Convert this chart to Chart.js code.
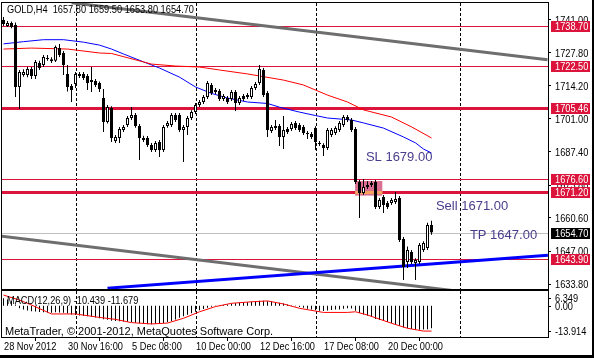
<!DOCTYPE html>
<html>
<head>
<meta charset="utf-8">
<script src="https://cdn.jsdelivr.net/npm/chart.js@4.4.0/dist/chart.umd.min.js"></script>
<style>
html, body { margin: 0; padding: 0; background: #000; }
#wrap { position: relative; width: 594px; height: 358px; background: #000; overflow: hidden; }
canvas { position: absolute; left: 0; background: #fff; }
#main { top: 0; }
#macd { top: 290px; }
</style>
</head>
<body>
<div id="wrap">
  <canvas id="main" width="592" height="290"></canvas>
  <canvas id="macd" width="592" height="65"></canvas>
</div>
<script>
const symbolTitle = 'GOLD,H4';

// H4 candles, bar 0 = 28 Nov 2012 00:00
const opens = [
  1741.0, 1738.6, 1739.8, 1739.0, 1713.8, 1718.7, 1718.7, 1721.1, 1718.3, 1723.5,
  1722.7, 1725.2, 1725.1, 1724.4, 1729.6, 1727.6, 1719.1, 1714.2, 1715.0, 1718.3,
  1719.1, 1718.3, 1716.6, 1716.2, 1715.4, 1709.3, 1699.6, 1705.3, 1691.9, 1693.1,
  1696.3, 1698.4, 1701.2, 1702.4, 1698.0, 1693.1, 1693.1, 1690.2, 1688.2, 1691.5,
  1688.2, 1698.0, 1698.4, 1702.4, 1702.4, 1696.3, 1697.6, 1701.2, 1703.6, 1706.5,
  1707.7, 1709.7, 1714.6, 1711.8, 1712.2, 1708.9, 1709.3, 1708.9, 1711.8, 1707.3,
  1710.1, 1709.7, 1709.7, 1713.4, 1715.4, 1720.7, 1711.4, 1695.9, 1697.1, 1698.0,
  1693.5, 1696.7, 1696.7, 1699.2, 1698.4, 1697.6, 1695.1, 1694.7, 1697.1, 1691.1,
  1690.2, 1689.0, 1694.3, 1695.1, 1696.3, 1698.4, 1701.6, 1700.4, 1696.7, 1675.2,
  1670.8, 1673.2, 1674.0, 1675.2, 1665.1, 1669.1, 1666.7, 1666.7, 1667.1, 1668.7,
  1652.1, 1642.7, 1646.8, 1642.3, 1642.7, 1647.6, 1648.4, 1657.8
];
const highs = [
  1742.2, 1740.6, 1740.4, 1740.0, 1720.7, 1721.0, 1722.0, 1721.9, 1724.8, 1724.4,
  1726.8, 1726.8, 1725.9, 1730.6, 1731.3, 1728.4, 1722.7, 1715.0, 1719.9, 1719.9,
  1719.9, 1719.1, 1721.9, 1717.0, 1716.0, 1713.0, 1706.5, 1706.0, 1694.3, 1697.6,
  1698.4, 1702.0, 1705.7, 1703.2, 1698.8, 1694.0, 1693.9, 1691.1, 1691.9, 1692.3,
  1698.4, 1700.0, 1703.2, 1703.2, 1703.2, 1698.4, 1702.0, 1704.4, 1707.3, 1708.5,
  1710.5, 1716.2, 1715.4, 1713.4, 1713.0, 1710.9, 1710.1, 1712.6, 1712.6, 1710.1,
  1710.9, 1711.4, 1714.2, 1715.8, 1722.7, 1721.5, 1712.2, 1698.4, 1700.4, 1698.8,
  1702.0, 1697.6, 1699.6, 1700.0, 1699.2, 1698.4, 1695.9, 1695.5, 1697.9, 1691.9,
  1691.0, 1697.1, 1697.1, 1697.9, 1700.0, 1702.4, 1702.4, 1701.2, 1697.5, 1676.0,
  1676.4, 1675.5, 1675.6, 1676.0, 1668.7, 1669.9, 1667.5, 1668.7, 1671.2, 1669.5,
  1652.9, 1649.0, 1647.6, 1644.3, 1650.4, 1651.2, 1658.7, 1659.5
];
const lows = [
  1738.6, 1738.2, 1737.6, 1709.7, 1704.9, 1718.0, 1717.8, 1717.0, 1717.0, 1720.7,
  1721.9, 1724.4, 1723.5, 1723.9, 1726.0, 1718.7, 1712.0, 1707.7, 1713.4, 1717.4,
  1716.6, 1712.6, 1711.8, 1713.8, 1711.8, 1695.5, 1699.0, 1691.5, 1691.1, 1691.1,
  1695.5, 1697.6, 1700.4, 1697.2, 1684.2, 1691.5, 1689.4, 1687.4, 1687.4, 1685.4,
  1687.4, 1697.2, 1697.6, 1699.6, 1695.5, 1683.3, 1694.3, 1700.4, 1702.8, 1705.7,
  1706.9, 1708.9, 1710.5, 1711.0, 1708.1, 1708.1, 1706.9, 1708.1, 1704.0, 1706.5,
  1708.1, 1708.9, 1708.9, 1712.6, 1714.6, 1709.7, 1693.5, 1695.1, 1696.3, 1689.8,
  1688.6, 1694.7, 1695.9, 1696.3, 1695.5, 1694.3, 1692.7, 1692.7, 1688.2, 1689.8,
  1685.8, 1688.2, 1693.5, 1694.3, 1695.5, 1697.6, 1699.6, 1695.5, 1674.4, 1660.6,
  1670.0, 1672.4, 1673.2, 1664.3, 1664.3, 1662.6, 1664.3, 1665.9, 1666.3, 1650.9,
  1635.4, 1640.3, 1641.9, 1635.4, 1641.9, 1646.8, 1647.6, 1653.8
];
const closes = [
  1739.4, 1739.8, 1738.2, 1713.8, 1719.9, 1719.9, 1721.1, 1718.3, 1723.9, 1721.5,
  1726.0, 1725.6, 1724.2, 1730.0, 1726.8, 1722.7, 1713.8, 1712.6, 1719.1, 1719.1,
  1717.4, 1715.4, 1715.8, 1714.6, 1713.0, 1699.6, 1705.7, 1693.1, 1693.5, 1696.7,
  1697.6, 1701.2, 1702.4, 1698.0, 1693.1, 1692.3, 1690.2, 1688.2, 1691.1, 1688.2,
  1697.6, 1699.2, 1702.4, 1700.4, 1696.3, 1697.6, 1701.2, 1703.6, 1706.5, 1707.7,
  1709.7, 1715.4, 1711.4, 1712.6, 1708.9, 1710.1, 1707.7, 1711.8, 1707.3, 1709.3,
  1708.9, 1710.5, 1713.4, 1715.0, 1721.1, 1710.5, 1696.3, 1697.6, 1698.0, 1693.5,
  1696.3, 1695.5, 1698.8, 1697.1, 1696.3, 1695.1, 1694.7, 1693.5, 1691.5, 1690.6,
  1689.0, 1696.3, 1696.3, 1697.1, 1699.2, 1701.6, 1700.4, 1696.3, 1675.2, 1670.8,
  1673.2, 1674.0, 1674.8, 1665.1, 1667.9, 1665.9, 1665.1, 1667.9, 1668.3, 1651.7,
  1640.7, 1647.6, 1642.7, 1643.5, 1649.6, 1650.4, 1657.8, 1654.7
];

// moving averages, [bar, price]
const maBlue = [
  [0, 1731.3], [5, 1732.2], [10, 1733.0], [15, 1733.0], [20, 1732.0], [24, 1730.8],
  [27, 1729.2], [30, 1727.2], [35, 1724.0], [39, 1721.5], [44, 1717.8], [48, 1713.8],
  [52, 1711.2], [56, 1709.3], [61, 1707.7], [66, 1707.1], [69, 1705.6], [74, 1703.6],
  [78, 1702.2], [81, 1701.2], [87, 1700.4], [90, 1699.2], [95, 1697.1], [100, 1693.5],
  [103, 1691.1], [105, 1688.6], [107, 1687.0]
];
const maRed = [
  [0, 1729.2], [7, 1729.6], [16, 1729.2], [24, 1727.6], [27, 1727.4], [37, 1723.1],
  [43, 1722.3], [49, 1721.9], [54, 1720.7], [61, 1719.1], [70, 1716.6], [75, 1714.6],
  [81, 1710.5], [86, 1707.7], [90, 1704.5], [97, 1701.6], [102, 1697.6], [107, 1693.1]
];

// trend lines, [bar, price]
const trendGrayTop = [[17, 1748.0], [136, 1724.9]];
const trendGrayBottom = [[-2, 1653.5], [136, 1626.5]];
const trendBlue = [[26, 1632.1], [136.1, 1645.5]];

const priceTicks = [1741.00, 1727.80, 1714.20, 1701.00, 1687.40, 1673.80, 1660.60, 1647.00, 1633.80];
const levelPrices = [1738.70, 1722.50, 1705.46, 1676.60, 1671.20, 1643.90];
const levelLineWidths = [1, 1, 3, 1, 3, 1];
const currentPrice = 1654.70;

const zoneBars = [87.9, 94.7];
const zonePrices = [1675.6, 1669.7];

const noteTexts = ['SL 1679.00', 'Sell 1671.00', 'TP 1647.00'];
const noteBars = [90.6, 108.1, 116.6];
const notePrices = [1685.4, 1665.5, 1653.5];

const separatorBars = [18, 48, 78, 114];
const timeTickBars = [0, 16, 32, 48, 64, 80, 96];
const timeLabels = ['28 Nov 2012', '30 Nov 16:00', '5 Dec 08:00', '10 Dec 00:00', '12 Dec 16:00', '17 Dec 08:00', '20 Dec 00:00'];

// MACD(12,26,9)
const macdHist = [
  3.4, 2.8, 2.2, 0.6, -1.2, -1.8, -2.2, -2.6, -2.7, -2.9,
  -3.0, -3.1, -3.2, -3.0, -3.1, -3.3, -3.6, -4.1, -4.3, -4.5,
  -4.7, -4.9, -5.1, -5.4, -5.8, -6.3, -6.5, -6.9, -7.1, -7.2,
  -7.3, -7.4, -7.5, -7.8, -8.1, -8.4, -8.5, -8.5, -8.4, -8.3,
  -8.0, -7.6, -7.0, -6.4, -5.6, -4.9, -4.2, -3.5, -2.8, -2.1,
  -1.5, -0.9, -0.5, -0.2, 0.1, 0.3, 0.6, 0.9, 1.1, 1.3,
  1.5, 1.6, 1.8, 2.0, 2.3, 2.3, 2.1, 1.9, 1.6, 1.3,
  1.0, 0.6, 0.2, -0.2, -0.6, -1.0, -1.4, -1.8, -2.1, -2.3,
  -2.4, -2.2, -2.0, -1.8, -1.7, -1.4, -1.2, -1.3, -2.3, -3.4,
  -4.0, -4.6, -5.2, -6.1, -6.6, -7.0, -7.5, -8.0, -8.4, -9.2,
  -10.0, -10.4, -10.7, -11.0, -11.1, -11.0, -10.8, -10.439
];
const macdSignal = [
  [0, 4.9], [4, 2.6], [7, 0.3], [12, -3.8], [18, -3.8], [24, -5.4], [28, -6.3],
  [32, -7.8], [37, -8.4], [41, -8.0], [45, -5.8], [49, -2.8], [53, -0.4], [57, 1.1],
  [62, 1.8], [66, 2.2], [70, 0.8], [74, -1.2], [80, -3.1], [86, -3.1], [88, -2.8],
  [91, -4.3], [97, -8.1], [101, -10.4], [105, -11.7], [107, -11.679]
];
const macdAxisValues = [6.349, 0.00, -13.914];

const fontStr = "11px 'Liberation Sans', Arial";
const SQUEEZE = 0.84;
const CRIMSON = '#dc143c';
const xMin = -0.375, xMax = 136.125;

const toXY = arr => arr.map(([x, y]) => ({ x, y }));
const barIdx = opens.map((o, i) => i);

// MetaTrader's system font is narrower than Arial: squeeze horizontally
function narrowText(ctx, text, x, y) {
  ctx.save();
  ctx.translate(x, y);
  ctx.scale(SQUEEZE, 1);
  ctx.fillText(text, 0, 0);
  ctx.restore();
}

function drawSeparators(chart) {
  const { ctx, chartArea: a, scales: { x } } = chart;
  ctx.save();
  ctx.strokeStyle = '#000';
  ctx.lineWidth = 1;
  ctx.setLineDash([3, 2]);
  separatorBars.forEach(b => {
    const px = Math.round(x.getPixelForValue(b)) + 0.5;
    ctx.beginPath();
    ctx.moveTo(px, a.top);
    ctx.lineTo(px, a.bottom);
    ctx.stroke();
  });
  ctx.restore();
}

function drawFrame(chart) {
  const { ctx, chartArea: a } = chart;
  ctx.save();
  ctx.strokeStyle = '#000';
  ctx.lineWidth = 1;
  ctx.strokeRect(a.left - 0.5, a.top - 0.5, a.right - a.left + 1, a.bottom - a.top + 1);
  ctx.restore();
}

const mainOverlay = {
  id: 'mainOverlay',
  beforeDatasetsDraw(chart) {
    const { ctx, chartArea: a, scales: { x, y } } = chart;
    ctx.save();
    ctx.beginPath();
    ctx.rect(a.left, a.top, a.right - a.left, a.bottom - a.top);
    ctx.clip();
    drawSeparators(chart);
    // current price line
    const cy = Math.round(y.getPixelForValue(currentPrice)) + 0.5;
    ctx.strokeStyle = '#c0c0c0';
    ctx.lineWidth = 1;
    ctx.beginPath(); ctx.moveTo(a.left, cy); ctx.lineTo(a.right, cy); ctx.stroke();
    // horizontal levels
    levelPrices.forEach((p, i) => {
      const w = levelLineWidths[i];
      const py = Math.round(y.getPixelForValue(p)) + (w % 2 ? 0.5 : 0);
      ctx.strokeStyle = CRIMSON;
      ctx.lineWidth = w;
      ctx.beginPath(); ctx.moveTo(a.left, py); ctx.lineTo(a.right, py); ctx.stroke();
    });
    // rectangle zone
    const rx0 = x.getPixelForValue(zoneBars[0]), rx1 = x.getPixelForValue(zoneBars[1]);
    const ry0 = y.getPixelForValue(zonePrices[0]), ry1 = y.getPixelForValue(zonePrices[1]);
    ctx.fillStyle = '#db7093';
    ctx.fillRect(rx0, ry0, rx1 - rx0, ry1 - ry0);
    levelPrices.forEach((p, i) => {
      if (p < zonePrices[0] && p > zonePrices[1]) {
        const w = levelLineWidths[i];
        const py = Math.round(y.getPixelForValue(p)) + (w % 2 ? 0.5 : 0);
        ctx.strokeStyle = '#f4a460';
        ctx.lineWidth = w;
        ctx.beginPath(); ctx.moveTo(rx0, py); ctx.lineTo(rx1, py); ctx.stroke();
      }
    });
    ctx.restore();
  },
  afterDatasetsDraw(chart) {
    const { ctx, scales: { x, y } } = chart;
    ctx.save();
    ctx.font = "13px 'Liberation Sans', Arial";
    ctx.fillStyle = '#483d8b';
    ctx.textAlign = 'left';
    ctx.textBaseline = 'middle';
    noteTexts.forEach((t, i) => {
      ctx.fillText(t, x.getPixelForValue(noteBars[i]), y.getPixelForValue(notePrices[i]));
    });
    const n = opens.length - 1;
    const header = symbolTitle + '  ' + [opens[n], highs[n], lows[n], closes[n]].map(v => v.toFixed(2)).join(' ');
    ctx.font = fontStr;
    ctx.fillStyle = '#000';
    narrowText(ctx, header, 7, 10);
    ctx.restore();
  },
  afterDraw(chart) {
    const { ctx, chartArea: a, scales: { y } } = chart;
    drawFrame(chart);
    ctx.save();
    ctx.font = fontStr;
    ctx.textAlign = 'left';
    ctx.textBaseline = 'middle';
    ctx.fillStyle = '#000';
    priceTicks.forEach(v => narrowText(ctx, v.toFixed(2), a.right + 7, Math.round(y.getPixelForValue(v)) + 0.5));
    const box = (p, bg) => {
      const py = Math.round(y.getPixelForValue(p));
      ctx.fillStyle = bg;
      ctx.fillRect(551, py - 5, 39, 11);
      ctx.fillStyle = '#fff';
      narrowText(ctx, p.toFixed(2), 555, py + 0.5);
    };
    levelPrices.forEach(p => box(p, CRIMSON));
    box(currentPrice, '#000');
    ctx.restore();
  }
};

new Chart(document.getElementById('main'), {
  type: 'bar',
  data: {
    datasets: [
      { type: 'line', data: toXY(trendGrayTop), borderColor: '#6e6e6e', borderWidth: 3, pointRadius: 0, tension: 0, order: 6 },
      { type: 'line', data: toXY(trendGrayBottom), borderColor: '#6e6e6e', borderWidth: 3, pointRadius: 0, tension: 0, order: 6 },
      { type: 'line', data: toXY(trendBlue), borderColor: '#0000ff', borderWidth: 3, pointRadius: 0, tension: 0, order: 5 },
      { type: 'line', data: toXY(maRed), borderColor: '#ff0000', borderWidth: 1, pointRadius: 0, tension: 0, order: 4 },
      { type: 'line', data: toXY(maBlue), borderColor: '#0000ff', borderWidth: 1, pointRadius: 0, tension: 0, order: 4 },
      {
        type: 'bar', data: barIdx.map(i => ({ x: i, y: [lows[i], highs[i]] })),
        backgroundColor: '#000', barThickness: 1, grouped: false, inflateAmount: 0, borderWidth: 0, order: 2
      },
      {
        type: 'bar', data: barIdx.map(i => ({ x: i, y: [opens[i], closes[i]] })),
        backgroundColor: c => closes[c.dataIndex] >= opens[c.dataIndex] ? '#fff' : '#000',
        borderColor: '#000', borderWidth: 1, borderSkipped: false, barThickness: 3,
        minBarLength: 1, grouped: false, inflateAmount: 0, order: 1
      }
    ]
  },
  options: {
    responsive: false,
    animation: false,
    events: [],
    layout: { padding: { left: 2, top: 3, right: 0, bottom: 1 } },
    plugins: { legend: { display: false }, tooltip: { enabled: false } },
    scales: {
      x: { type: 'linear', display: false, min: xMin, max: xMax, offset: false },
      y: {
        type: 'linear', position: 'right', min: 1631.77, max: 1747.9,
        afterBuildTicks: s => { s.ticks = priceTicks.map(v => ({ value: v })); },
        afterFit: s => { s.width = 44; s.paddingTop = 0; s.paddingBottom = 0; },
        ticks: { display: false, autoSkip: false },
        grid: { drawOnChartArea: false, drawTicks: true, tickLength: 3, color: '#000' },
        border: { display: false }
      }
    }
  },
  plugins: [mainOverlay]
});

const macdOverlay = {
  id: 'macdOverlay',
  beforeDatasetsDraw(chart) {
    const { ctx, chartArea: a } = chart;
    ctx.save();
    ctx.beginPath();
    ctx.rect(a.left, a.top, a.right - a.left, a.bottom - a.top);
    ctx.clip();
    drawSeparators(chart);
    ctx.restore();
  },
  afterDraw(chart) {
    const { ctx, chartArea: a, scales: { x, y } } = chart;
    drawFrame(chart);
    ctx.save();
    ctx.font = fontStr;
    ctx.fillStyle = '#000';
    ctx.textBaseline = 'middle';
    ctx.textAlign = 'left';
    const n = macdHist.length - 1;
    const sig = macdSignal[macdSignal.length - 1][1];
    narrowText(ctx, 'MACD(12,26,9) ' + macdHist[n].toFixed(3) + ' ' + sig.toFixed(3), 7, 10.5);
    ctx.fillText('MetaTrader, \u00a9 2001-2012, MetaQuotes Software Corp.', 5, 42);
    const offs = [6, 0, -5];
    macdAxisValues.forEach((v, i) => {
      const py = Math.round(y.getPixelForValue(v) + offs[i]);
      ctx.fillRect(a.right, py, 3, 1);
      narrowText(ctx, v === 0 ? v.toFixed(2) : v.toFixed(3), 555, py + 0.5);
    });
    timeTickBars.forEach((b, i) => {
      narrowText(ctx, timeLabels[i], Math.round(x.getPixelForValue(b)), a.bottom + 10);
    });
    ctx.restore();
  }
};

new Chart(document.getElementById('macd'), {
  type: 'bar',
  data: {
    datasets: [
      { type: 'line', data: toXY(macdSignal), borderColor: '#ff0000', borderWidth: 1, pointRadius: 0, tension: 0, order: 1 },
      {
        type: 'bar', data: macdHist.map((v, i) => ({ x: i, y: v })),
        backgroundColor: '#000', barThickness: 1, grouped: false, inflateAmount: 0, borderWidth: 0, order: 2
      }
    ]
  },
  options: {
    responsive: false,
    animation: false,
    events: [],
    layout: { padding: { left: 2, top: 1, right: 0, bottom: 0 } },
    plugins: { legend: { display: false }, tooltip: { enabled: false } },
    scales: {
      x: {
        type: 'linear', position: 'bottom', min: xMin, max: xMax, offset: false,
        afterBuildTicks: s => { s.ticks = timeTickBars.map(v => ({ value: v })); },
        afterFit: s => { s.height = 18; s.paddingLeft = 0; s.paddingRight = 0; },
        ticks: { display: false, autoSkip: false, maxRotation: 0 },
        grid: { drawOnChartArea: false, drawTicks: true, tickLength: 4, color: '#000' },
        border: { display: false }
      },
      y: {
        type: 'linear', position: 'right', min: -14.42, max: 6.77,
        afterFit: s => { s.width = 44; s.paddingTop = 0; s.paddingBottom = 0; },
        ticks: { display: false },
        grid: { display: false },
        border: { display: false }
      }
    }
  },
  plugins: [macdOverlay]
});
</script>
</body>
</html>
